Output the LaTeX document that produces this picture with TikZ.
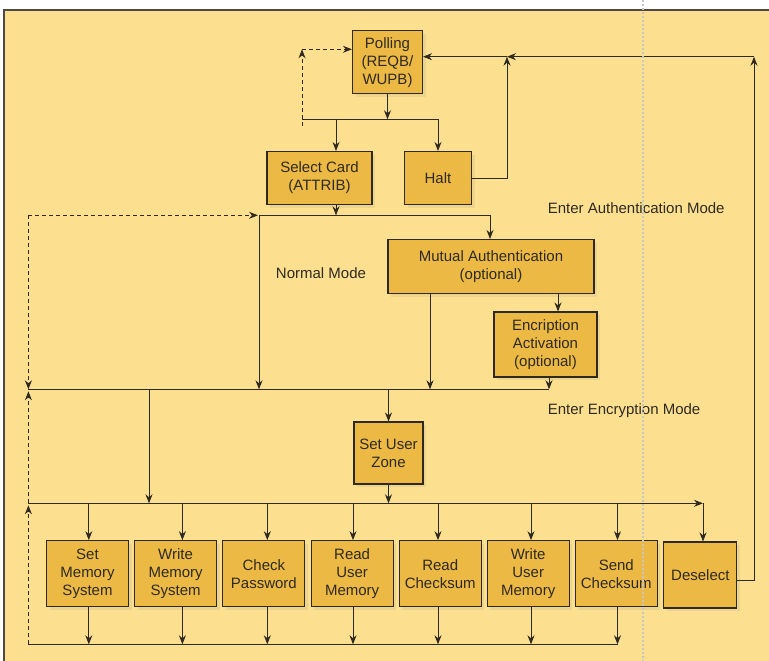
\documentclass[tikz,border=0pt]{standalone}
\usepackage{fontspec}
\setmainfont{Liberation Sans}
\usetikzlibrary{arrows.meta,shadows}

\definecolor{panel}{HTML}{FDE08F}
\definecolor{boxfill}{HTML}{ECB944}
\definecolor{ink}{HTML}{2E2A22}

\begin{document}
\begin{tikzpicture}[x=1pt, y=-1pt,
  font=\fontsize{15}{18}\selectfont,
  line width=0.9pt, draw=ink,
  >={Stealth[length=9pt,width=7pt]},
  state/.style={draw=ink, line width=1.1pt, fill=boxfill, align=center,
    inner sep=1pt, text=ink,
    drop shadow={opacity=0.12, shadow xshift=3pt, shadow yshift=-3pt}},
  cmd/.style={state, minimum width=82pt, minimum height=66pt},
  ret/.style={dashed, dash pattern=on 4pt off 3pt},
  lbl/.style={text=ink}]
  \useasboundingbox (0,0) rectangle (769,661);
  \fill[white] (0,0) rectangle (769,661);
  \fill[panel] (4,10) rectangle (769,661);
  \draw[line width=2pt, ink!85] (4,661) -- (4,10) -- (769,10);

  % states
  \node [state, minimum width=70pt, minimum height=63pt] (poll) at (387.5,62.4) {Polling\\(REQB/\\WUPB)};
  \node [state, minimum width=105pt, minimum height=53pt] (sel) at (319.5,178) {Select Card\\(ATTRIB)};
  \node [state, minimum width=67pt, minimum height=53pt] (halt) at (438,178) {Halt};
  \node [state, minimum width=206pt, minimum height=54pt] (auth) at (491,266.5) {Mutual Authentication\\(optional)};
  \node [state, minimum width=103pt, minimum height=65pt] (encr) at (545.5,344.5) {Encription\\Activation\\(optional)};
  \node [state, minimum width=69pt, minimum height=62pt] (zone) at (388.5,453) {Set User\\Zone};

  % commands
  \node [cmd] (b1) at (87.5,573.7) {Set\\Memory\\System};
  \node [cmd] (b2) at (175.6,573.7) {Write\\Memory\\System};
  \node [cmd] (b3) at (263.9,573.7) {Check\\Password};
  \node [cmd] (b4) at (352.1,573.7) {Read\\User\\Memory};
  \node [cmd] (b5) at (440.2,573.7) {Read\\Checksum};
  \node [cmd] (b6) at (528.2,573.7) {Write\\User\\Memory};
  \node [cmd] (b7) at (616.3,573.7) {Send\\Checksum};
  \node [state, minimum width=73pt, minimum height=66pt] (desel) at (700.4,575) {Deselect};

  % labels
  \node [lbl] (normal) at (321,273) {Normal Mode};
  \node [lbl, anchor=west] (entauth) at (544,208) {Enter Authentication Mode};
  \node [lbl, anchor=west] (entenc) at (544,411) {Enter Encryption Mode};

  % polling fan-out
  \coordinate (pl) at (302,119.3);
  \coordinate (pr) at (438,119.3);
  \coordinate (pm) at (387.5,119.3);
  \coordinate (ps) at (336,119.3);
  \coordinate (pd) at (302,126);
  \coordinate (pt) at (302,49.3);
  \draw[->] (poll.south) -- (pm);
  \draw (pl) -- (pr);
  \draw[->] (ps) -- (ps |- sel.north);
  \draw[->] (pr) -- (halt.north);
  \draw[ret, ->] (pd) -- (pt);
  \draw[ret, ->] (pt) -- (pt -| poll.west);

  % back to polling
  \coordinate (hr) at (507,56.7);
  \coordinate (rr) at (754,56.7);
  \draw[->] (halt.east) -| (hr);
  \draw[->] ([yshift=-5pt]desel.east) -| (rr);
  \draw[->] (rr) -- (hr);
  \draw[->] (hr) -- (hr -| poll.east);

  % authentication branch
  \coordinate (ml) at (259,215.3);
  \coordinate (ms) at (336,215.3);
  \coordinate (mr) at (490,215.3);
  \coordinate (dl) at (28.4,215.3);
  \coordinate (bus1l) at (28.4,389.3);
  \coordinate (bus1r) at (549,389.3);
  \draw[->] (ms |- sel.south) -- (ms);
  \draw[->] (ml) -- (mr) -- (mr |- auth.north);
  \draw[->] (ml) -- (ml |- bus1l);
  \draw[->] ([xshift=-61pt]auth.south) -- ([xshift=-61pt]auth.south |- bus1l);
  \draw[->] ([xshift=67pt]auth.south) -- ([xshift=67pt]auth.south |- encr.north);
  \draw[->] (bus1r |- encr.south) -- (bus1r);
  \draw (bus1l) -- (bus1r);
  \draw[ret, ->] (dl) -- ([xshift=-1pt]ml);
  \draw[ret, ->] (dl) -- (bus1l);

  % command bus
  \coordinate (bus2l) at (28.4,503.3);
  \coordinate (bus2r) at (703,503.3);
  \coordinate (bus3l) at (28.4,644.3);
  \coordinate (bus3r) at (617.5,644.3);
  \draw[->] (zone.north |- bus1l) -- (zone.north);
  \draw[->] (zone.south) -- (zone.south |- bus2l);
  \draw[->] (149,389.3) -- (149,503.3);
  \draw[->] (bus2l) -- (bus2r);
  \draw[->] (bus2r) -- (bus2r |- desel.north);
  \foreach \n/\x in {1/88.8, 2/182.4, 3/267.3, 4/353, 5/438, 6/531, 7/617.5} {
    \coordinate (t\n) at (\x,503.3);
    \coordinate (u\n) at (\x,644.3);
    \draw[->] (t\n) -- (t\n |- b\n.north);
    \draw[->] (u\n |- b\n.south) -- (u\n);
  }
  \draw (bus3l) -- (bus3r);
  \draw[ret, ->] (bus3l) -- ([yshift=-2pt]bus2l);
  \draw[ret, ->] (bus2l) -- ([yshift=-2pt]bus1l);

  % page fold
  \draw[gray!45, line width=1.6pt, dash pattern=on 1.6pt off 2.4pt] (643,0) -- (643,661);
\end{tikzpicture}
\end{document}
